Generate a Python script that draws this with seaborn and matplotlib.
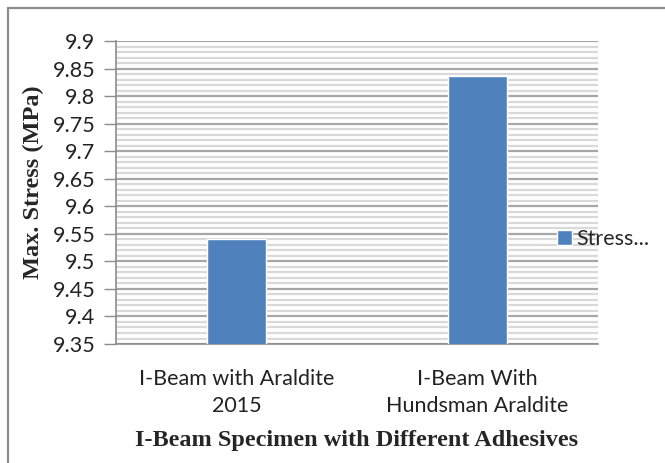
# import packages
import numpy as np
import pandas as pd
import matplotlib
matplotlib.use("Agg")
import matplotlib.pyplot as plt
from matplotlib.patches import Rectangle
from matplotlib.ticker import MultipleLocator
import seaborn as sns

# chart data
categories = ["I-Beam with Araldite\n2015", "I-Beam With\nHundsman Araldite"]
stress = [9.54, 9.836]
series_name = "Stress..."
y_ticks = [9.35, 9.4, 9.45, 9.5, 9.55, 9.6, 9.65, 9.7, 9.75, 9.8, 9.85, 9.9]

df = pd.DataFrame({"Specimen": categories, "Stress": stress})

sns.set_theme(style="white")
plt.rcParams['font.family'] = ['Lato', 'DejaVu Sans']

fig = plt.figure(figsize=(6.65, 4.63), dpi=100)
ax = fig.add_axes([0.1744, 0.257, 0.7248, 0.6544])

# outer chart frame (left and top edges visible)
fig.patches.append(Rectangle((8 / 665, -0.1), 1.2, 1 - 8 / 463 + 0.1, transform=fig.transFigure,
                             fill=False, edgecolor="#8c8c8c", linewidth=1.6))

sns.barplot(data=df, x="Specimen", y="Stress", color="#4F81BD", width=0.245,
            saturation=1, ax=ax, label=series_name, zorder=3)

ax.set_ylim(9.35, 9.9)
ax.set_xlim(-0.5, 1.5)
ax.yaxis.set_minor_locator(MultipleLocator(0.01))
ax.set_yticks(y_ticks)
ax.set_yticklabels([f"{v:g}" for v in y_ticks])

ax.grid(which="major", axis="y", color="#a6a6a6", linewidth=1.6, zorder=0)
ax.grid(which="minor", axis="y", color="#d9d9d9", linewidth=1.6, zorder=0)
ax.set_axisbelow(True)

for s in ["top", "right"]:
    ax.spines[s].set_visible(False)
for s in ["left", "bottom"]:
    ax.spines[s].set_color("#8c8c8c")
    ax.spines[s].set_linewidth(1.2)

ax.tick_params(axis="y", which="major", left=True, length=9, width=1, color="#8c8c8c",
               labelsize=15.5, pad=6, labelcolor="#222222")
ax.tick_params(axis="y", which="minor", left=False)
ax.tick_params(axis="x", bottom=False, labelsize=15.5, pad=12, labelcolor="#222222")
for lbl in ax.get_xticklabels():
    lbl.set_linespacing(1.45)

ax.set_xlabel("I-Beam Specimen with Different Adhesives", fontsize=17.5, fontweight="bold",
              family="Liberation Serif", va="center")
ax.xaxis.set_label_coords(0.5, -0.317)
ax.set_ylabel("Max. Stress (MPa)", fontsize=17.5, fontweight="bold",
              family="Liberation Serif", va="center")
ax.yaxis.set_label_coords((33 - 116) / 482, (344 - 182) / 303)

leg = ax.legend(loc="center left", bbox_to_anchor=((557 - 116) / 482, (344 - 239) / 303),
                frameon=False, fontsize=15.5, handlelength=0.7, handleheight=0.7,
                handletextpad=0.2, borderaxespad=0, borderpad=0)

fig.savefig("out.png", dpi=100)
